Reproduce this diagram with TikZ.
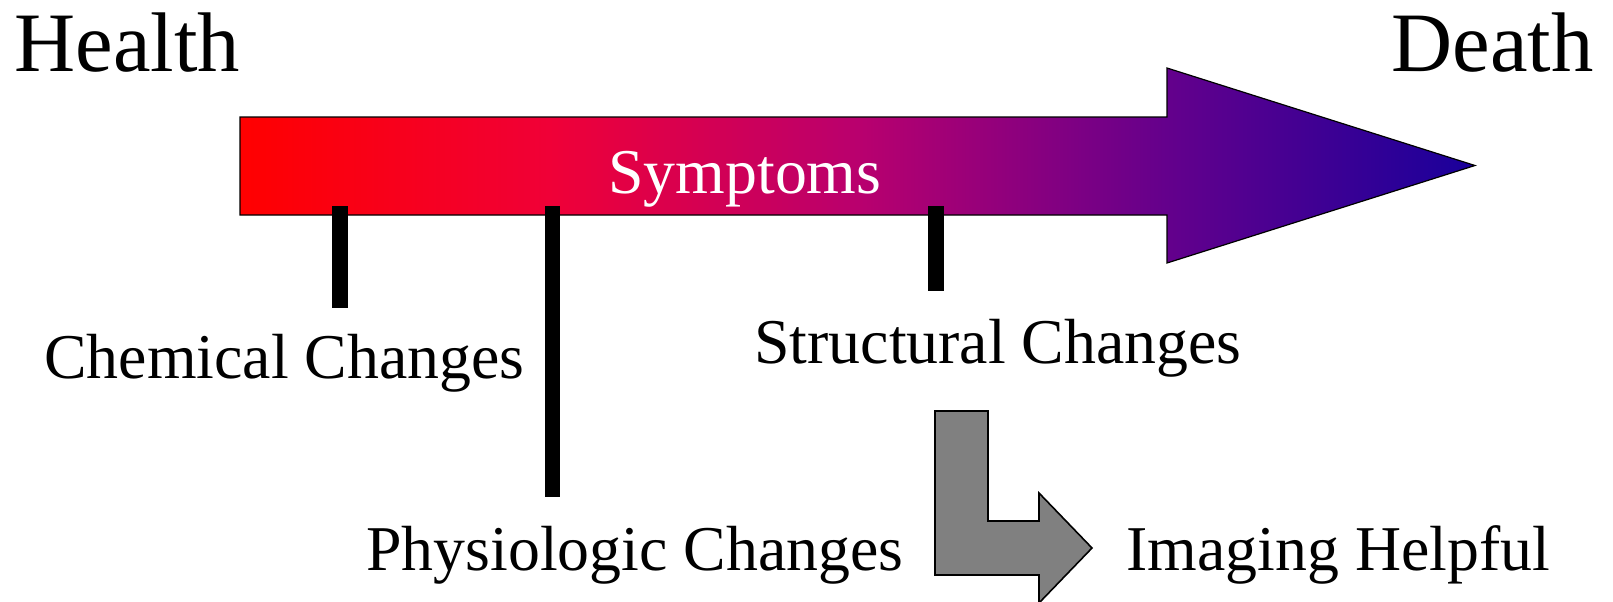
\documentclass[tikz,border=0pt]{standalone}
\usepackage{fontspec}
\setmainfont{Liberation Serif}
\definecolor{stageA}{RGB}{255,0,0}
\definecolor{stageB}{RGB}{240,0,55}
\definecolor{stageC}{RGB}{185,0,110}
\definecolor{stageD}{RGB}{100,0,140}
\definecolor{stageE}{RGB}{25,0,155}
\definecolor{bendgray}{RGB}{128,128,128}
\pgfdeclarehorizontalshading{lifespan}{100bp}{%
  color(0bp)=(stageA); color(25bp)=(stageA); color(37.5bp)=(stageB);
  color(50bp)=(stageC); color(62.5bp)=(stageD); color(75bp)=(stageE);
  color(100bp)=(stageE)}
\tikzset{
  bigword/.style={anchor=base west, inner sep=0pt, font=\fontsize{42.3pt}{48pt}\selectfont},
  word/.style={anchor=base west, inner sep=0pt, font=\fontsize{31.9pt}{36pt}\selectfont},
  tick/.style={fill=black},
}
\begin{document}
\begin{tikzpicture}[x=0.5pt,y=-0.5pt]
\useasboundingbox (0,0) rectangle (1613,601);
% main timeline arrow
\path[shading=lifespan, draw=black, line width=0.6pt]
  (240,117) -- (1167,117) -- (1167,68) -- (1475,165.5) -- (1167,263)
  -- (1167,215) -- (240,215) -- cycle;
% stage markers
\fill[tick] (332,206) rectangle (348,308);
\fill[tick] (545,206) rectangle (560,497);
\fill[tick] (928,206) rectangle (944,291);
% bent arrow towards imaging
\draw[fill=bendgray, draw=black, line width=0.8pt, line join=miter]
  (935,411) -- (988,411) -- (988,521) -- (1039,521) -- (1039,493)
  -- (1092,548) -- (1039,603) -- (1039,575) -- (935,575) -- cycle;
% labels
\node[bigword] (health) at (14,71) {Health};
\node[bigword] (death) at (1391,71) {Death};
\node[word, text=white] (symptoms) at (608,193) {Symptoms};
\node[word] (chemical) at (44,378) {Chemical Changes};
\node[word] (structural) at (754,363) {Structural Changes};
\node[word] (physiologic) at (366,570) {Physiologic Changes};
\node[word] (imaging) at (1126,570) {Imaging Helpful};
\end{tikzpicture}
\end{document}
